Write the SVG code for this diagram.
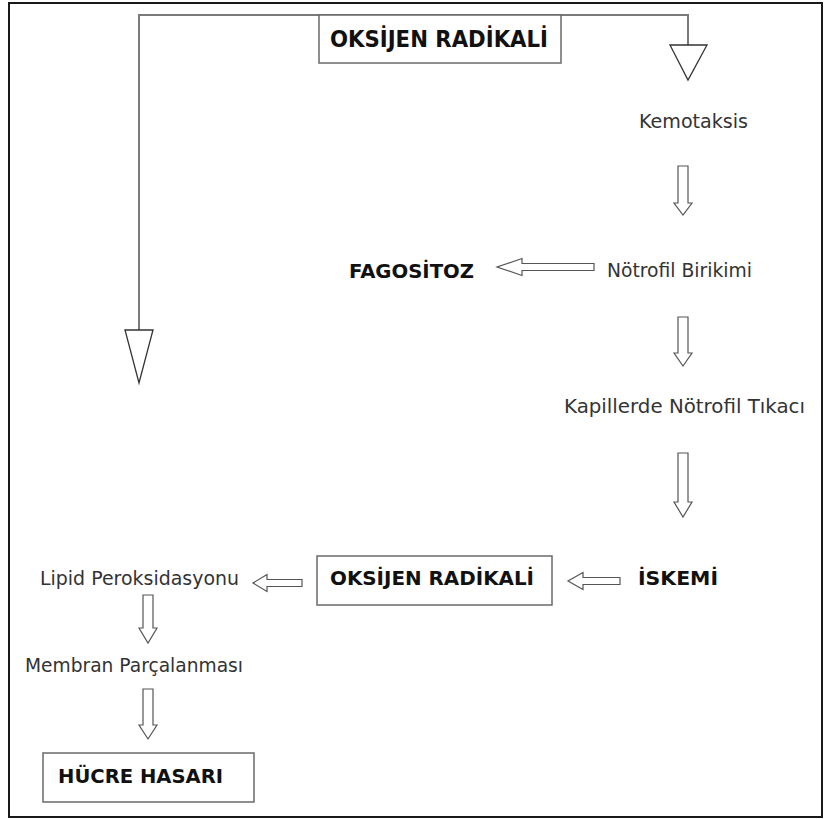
<svg xmlns="http://www.w3.org/2000/svg" width="824" height="819" viewBox="0 0 824 819">
<style>
.frame{fill:none;stroke:#1a1a1a;stroke-width:2}
.box{fill:#fff;stroke:#6a6a6a;stroke-width:1.5}
.wire{fill:none;stroke:#7a7a7a;stroke-width:2}
.tri{fill:#fff;stroke:#333;stroke-width:1.3}
.arr{fill:#fff;stroke:#555;stroke-width:1.2;stroke-linejoin:miter}
.t{font-family:"DejaVu Sans","Liberation Sans",sans-serif;font-size:19px;fill:#333}
.b{font-family:"DejaVu Sans","Liberation Sans",sans-serif;font-size:19px;font-weight:bold;fill:#111}
.bc{font-family:"DejaVu Sans Condensed","DejaVu Sans","Liberation Sans",sans-serif;font-stretch:condensed;font-size:23px;font-weight:bold;fill:#111}
</style>
<rect class="frame" x="9" y="3" width="813" height="814"/>
<g id="connectors">
  <polyline class="wire" points="139,330 139,15 688,15 688,45"/>
  <polygon class="tri" points="670,45 707,45 688,80"/>
  <polygon class="tri" points="125,330 153,330 139,383"/>
  <polygon class="arr" points="678,166 688,166 688,203 692,203 683,215 674,203 678,203"/>
  <polygon class="arr" points="594,263.5 594,270.5 522,270.5 522,275.5 497,267 522,258.5 522,263.5"/>
  <polygon class="arr" points="678,317 688,317 688,353 692,353 683,366 674,353 678,353"/>
  <polygon class="arr" points="678,453 688,453 688,502 692,502 683,517 674,502 678,502"/>
  <polygon class="arr" points="620,577.5 620,584.5 583,584.5 583,589.5 568,581 583,572.5 583,577.5"/>
  <polygon class="arr" points="302,579.5 302,586.5 267,586.5 267,591.5 253,583 267,574.5 267,579.5"/>
  <polygon class="arr" points="143,595 153,595 153,628 157,628 148,643 139,628 143,628"/>
  <polygon class="arr" points="143,689 153,689 153,725 157,725 148,739 139,725 143,725"/>
</g>
<g id="oksijen-top">
  <rect class="box" x="319" y="15" width="242" height="48"/>
  <text class="bc" x="330" y="47" textLength="218" lengthAdjust="spacingAndGlyphs">OKSİJEN RADİKALİ</text>
</g>
<g id="kemotaksis">
  <text class="t" x="639" y="128" textLength="109" lengthAdjust="spacingAndGlyphs">Kemotaksis</text>
</g>
<g id="fagositoz">
  <text class="b" x="349" y="278" textLength="125" lengthAdjust="spacingAndGlyphs">FAGOSİTOZ</text>
</g>
<g id="notrofil-birikimi">
  <text class="t" x="607" y="277" textLength="145" lengthAdjust="spacingAndGlyphs">Nötrofil Birikimi</text>
</g>
<g id="kapillerde">
  <text class="t" x="564" y="413" textLength="241" lengthAdjust="spacingAndGlyphs">Kapillerde Nötrofil Tıkacı</text>
</g>
<g id="iskemi">
  <text class="b" x="638" y="585" textLength="80" lengthAdjust="spacingAndGlyphs">İSKEMİ</text>
</g>
<g id="oksijen-bottom">
  <rect class="box" x="317" y="556" width="235" height="49"/>
  <text class="b" x="330" y="585" textLength="204" lengthAdjust="spacingAndGlyphs">OKSİJEN RADİKALİ</text>
</g>
<g id="lipid">
  <text class="t" x="40" y="585" textLength="199" lengthAdjust="spacingAndGlyphs">Lipid Peroksidasyonu</text>
</g>
<g id="membran">
  <text class="t" x="25" y="672" textLength="218" lengthAdjust="spacingAndGlyphs">Membran Parçalanması</text>
</g>
<g id="hucre-hasari">
  <rect class="box" x="43" y="753" width="211" height="49"/>
  <text class="b" x="58" y="783" textLength="165" lengthAdjust="spacingAndGlyphs">HÜCRE HASARI</text>
</g>
</svg>
